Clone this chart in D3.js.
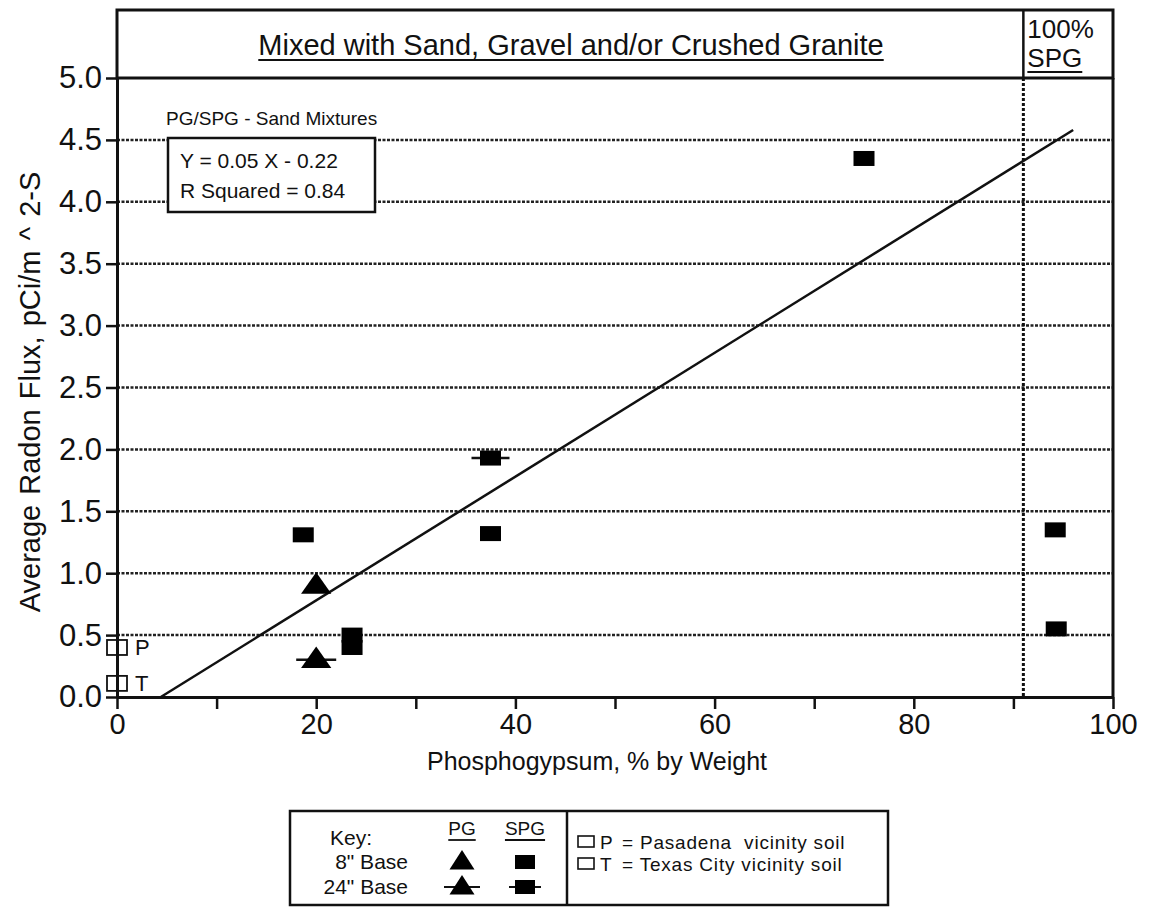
<!DOCTYPE html>
<html lang="en">
  <head>
    <meta charset="UTF-8" />
    <title>Average Radon Flux vs Phosphogypsum</title>
    <style>
      body {
        margin: 0;
        background-color: #ffffff;
      }
      svg text {
        font-family: "Liberation Sans", Arial, sans-serif;
        fill: #111;
      }
    </style>
  </head>
  <body>
    <div id="chart"></div>

    <script src="https://cdn.jsdelivr.net/npm/d3@7/dist/d3.min.js"></script>
    <script>
      // data
      const xTicks = [0, 20, 40, 60, 80, 100];
      const xMinorTicks = [10, 30, 50, 70, 90];
      const yTicks = [0, 0.5, 1, 1.5, 2, 2.5, 3, 3.5, 4, 4.5, 5];
      const yGrid = [0.5, 1, 1.5, 2, 2.5, 3, 3.5, 4, 4.5];

      const spg8 = [
        { x: 18.7, y: 1.31 },
        { x: 23.6, y: 0.5 },
        { x: 23.6, y: 0.4 },
        { x: 37.5, y: 1.32 },
        { x: 75.0, y: 4.35 },
        { x: 94.2, y: 1.35 },
        { x: 94.3, y: 0.55 },
      ];
      const spg24 = [{ x: 37.5, y: 1.93 }];
      const pg8 = [{ x: 20.0, y: 0.9 }];
      const pg24 = [{ x: 20.0, y: 0.3 }];
      const soils = [
        { label: "P", x: 0, y: 0.4 },
        { label: "T", x: 0, y: 0.11 },
      ];

      const fitSlope = 0.05;
      const fitIntercept = -0.22;
      const fitRange = [4.4, 96];
      const spgOnlyAt = 91; // dotted divider, 100% SPG samples to the right

      const width = 1153;
      const height = 908;
      const plotLeft = 117;
      const plotRight = 1113;
      const plotTop = 78; // y = 5.0 line, header box sits above it
      const plotBottom = 697;
      const headerTop = 10;

      const x = d3.scaleLinear().domain([0, 100]).range([plotLeft, plotRight]);
      const y = d3.scaleLinear().domain([0, 5]).range([plotBottom, plotTop]);

      const svg = d3
        .select("#chart")
        .append("svg")
        .attr("width", width)
        .attr("height", height);

      // dotted horizontal grid
      svg
        .append("g")
        .selectAll("line")
        .data(yGrid)
        .join("line")
        .attr("x1", plotLeft)
        .attr("x2", plotRight)
        .attr("y1", (d) => y(d))
        .attr("y2", (d) => y(d))
        .attr("stroke", "#222")
        .attr("stroke-width", 2.5)
        .attr("stroke-dasharray", "3,1.5");

      // dotted vertical divider
      svg
        .append("line")
        .attr("x1", x(spgOnlyAt))
        .attr("x2", x(spgOnlyAt))
        .attr("y1", plotTop)
        .attr("y2", plotBottom)
        .attr("stroke", "#111")
        .attr("stroke-width", 3)
        .attr("stroke-dasharray", "3,2");

      // header box
      svg
        .append("rect")
        .attr("x", plotLeft)
        .attr("y", headerTop)
        .attr("width", plotRight - plotLeft)
        .attr("height", plotTop - headerTop)
        .attr("fill", "none")
        .attr("stroke", "#111")
        .attr("stroke-width", 3);
      svg
        .append("line")
        .attr("x1", x(spgOnlyAt))
        .attr("x2", x(spgOnlyAt))
        .attr("y1", headerTop)
        .attr("y2", plotTop)
        .attr("stroke", "#111")
        .attr("stroke-width", 2.5);

      const titleX = 571;
      const title = svg
        .append("text")
        .attr("x", titleX)
        .attr("y", 55)
        .attr("text-anchor", "middle")
        .style("font-size", "29px")
        .text("Mixed with Sand, Gravel and/or Crushed Granite");
      const tw = title.node().getComputedTextLength();
      svg
        .append("line")
        .attr("x1", titleX - tw / 2)
        .attr("x2", titleX + tw / 2)
        .attr("y1", 60)
        .attr("y2", 60)
        .attr("stroke", "#111")
        .attr("stroke-width", 2);

      svg
        .append("text")
        .attr("x", x(spgOnlyAt) + 4)
        .attr("y", 38)
        .style("font-size", "26px")
        .text("100%");
      const spgLabel = svg
        .append("text")
        .attr("x", x(spgOnlyAt) + 4)
        .attr("y", 67)
        .style("font-size", "26px")
        .text("SPG");
      svg
        .append("line")
        .attr("x1", x(spgOnlyAt) + 4)
        .attr("x2", x(spgOnlyAt) + 4 + spgLabel.node().getComputedTextLength())
        .attr("y1", 72)
        .attr("y2", 72)
        .attr("stroke", "#111")
        .attr("stroke-width", 2);

      // right border
      svg
        .append("line")
        .attr("x1", plotRight)
        .attr("x2", plotRight)
        .attr("y1", plotTop)
        .attr("y2", plotBottom)
        .attr("stroke", "#111")
        .attr("stroke-width", 3);

      // axes
      const xAxis = svg
        .append("g")
        .attr("transform", "translate(0," + plotBottom + ")")
        .call(
          d3
            .axisBottom(x)
            .tickValues(xTicks.concat(xMinorTicks))
            .tickSize(12)
            .tickSizeOuter(0)
            .tickPadding(4)
            .tickFormat((d) => (xTicks.includes(d) ? d : ""))
        );
      xAxis.select(".domain").attr("stroke-width", 3).attr("stroke", "#111");
      xAxis.selectAll(".tick line").attr("stroke-width", 2.5).attr("stroke", "#111");
      xAxis
        .selectAll(".tick text")
        .style("font-size", "29px")
        .style("font-family", "'Liberation Sans', Arial, sans-serif")
        .attr("fill", "#111");

      const yAxis = svg
        .append("g")
        .attr("transform", "translate(" + plotLeft + ",0)")
        .call(
          d3
            .axisLeft(y)
            .tickValues(yTicks)
            .tickSize(11)
            .tickSizeOuter(0)
            .tickPadding(4)
            .tickFormat(d3.format(".1f"))
        );
      yAxis.select(".domain").attr("stroke-width", 3).attr("stroke", "#111");
      yAxis.selectAll(".tick line").attr("stroke-width", 2.5).attr("stroke", "#111");
      yAxis
        .selectAll(".tick text")
        .style("font-size", "31px")
        .style("font-family", "'Liberation Sans', Arial, sans-serif")
        .attr("fill", "#111");

      // axis titles
      svg
        .append("text")
        .attr("x", 597)
        .attr("y", 770)
        .attr("text-anchor", "middle")
        .style("font-size", "25px")
        .text("Phosphogypsum, % by Weight");
      svg
        .append("text")
        .attr("transform", "translate(40,392) rotate(-90)")
        .attr("text-anchor", "middle")
        .style("font-size", "29px")
        .style("word-spacing", "2px")
        .text("Average Radon Flux, pCi/m ^ 2-S");

      // regression line
      svg
        .append("line")
        .attr("x1", x(fitRange[0]))
        .attr("y1", y(fitSlope * fitRange[0] + fitIntercept))
        .attr("x2", x(fitRange[1]))
        .attr("y2", y(fitSlope * fitRange[1] + fitIntercept))
        .attr("stroke", "#111")
        .attr("stroke-width", 2.5);

      // fit annotation
      svg
        .append("text")
        .attr("x", 166)
        .attr("y", 125)
        .style("font-size", "19px")
        .text("PG/SPG - Sand Mixtures");
      svg
        .append("rect")
        .attr("x", 168)
        .attr("y", 138)
        .attr("width", 207)
        .attr("height", 74)
        .attr("fill", "#fff")
        .attr("stroke", "#111")
        .attr("stroke-width", 2.5);
      svg
        .append("text")
        .attr("x", 180)
        .attr("y", 168)
        .style("font-size", "21px")
        .text("Y = 0.05 X - 0.22");
      svg
        .append("text")
        .attr("x", 180)
        .attr("y", 198)
        .style("font-size", "21px")
        .text("R Squared = 0.84");

      // marker shapes
      const sqW = 21;
      const sqH = 15;
      const triangle = d3.symbol().type(d3.symbolTriangle).size(300);

      function drawSquares(g, data, dashed) {
        if (dashed) {
          g.selectAll("line.bar")
            .data(data)
            .join("line")
            .attr("class", "bar")
            .attr("x1", (d) => x(d.x) - 19)
            .attr("x2", (d) => x(d.x) + 19)
            .attr("y1", (d) => y(d.y))
            .attr("y2", (d) => y(d.y))
            .attr("stroke", "#111")
            .attr("stroke-width", 2.5);
        }
        g.selectAll("rect.sq")
          .data(data)
          .join("rect")
          .attr("class", "sq")
          .attr("x", (d) => x(d.x) - sqW / 2)
          .attr("y", (d) => y(d.y) - sqH / 2)
          .attr("width", sqW)
          .attr("height", sqH)
          .attr("fill", "#000");
      }

      function drawTriangles(g, data, dashed) {
        if (dashed) {
          g.selectAll("line.bar")
            .data(data)
            .join("line")
            .attr("class", "bar")
            .attr("x1", (d) => x(d.x) - 20)
            .attr("x2", (d) => x(d.x) + 20)
            .attr("y1", (d) => y(d.y))
            .attr("y2", (d) => y(d.y))
            .attr("stroke", "#111")
            .attr("stroke-width", 2.5);
        }
        g.selectAll("path.tri")
          .data(data)
          .join("path")
          .attr("class", "tri")
          .attr("transform", (d) => "translate(" + x(d.x) + "," + (y(d.y) + 1) + ") scale(1.15,0.95)")
          .attr("d", triangle)
          .attr("fill", "#000");
      }

      drawSquares(svg.append("g"), spg8, false);
      drawSquares(svg.append("g"), spg24, true);
      drawTriangles(svg.append("g"), pg8, false);
      drawTriangles(svg.append("g"), pg24, true);

      // soil reference points
      const soil = svg.append("g");
      soil
        .selectAll("rect")
        .data(soils)
        .join("rect")
        .attr("x", (d) => x(d.x) - 10)
        .attr("y", (d) => y(d.y) - 7.5)
        .attr("width", 20)
        .attr("height", 15)
        .attr("fill", "none")
        .attr("stroke", "#111")
        .attr("stroke-width", 1.8);
      soil
        .selectAll("text")
        .data(soils)
        .join("text")
        .attr("x", (d) => x(d.x) + 18)
        .attr("y", (d) => y(d.y) + 8)
        .style("font-size", "22px")
        .text((d) => d.label);

      // key box
      const key = svg.append("g");
      key
        .append("rect")
        .attr("x", 290)
        .attr("y", 811)
        .attr("width", 598)
        .attr("height", 94)
        .attr("fill", "none")
        .attr("stroke", "#111")
        .attr("stroke-width", 2.5);
      key
        .append("line")
        .attr("x1", 567)
        .attr("x2", 567)
        .attr("y1", 811)
        .attr("y2", 905)
        .attr("stroke", "#111")
        .attr("stroke-width", 2.5);

      key.append("text").attr("x", 330).attr("y", 845).style("font-size", "21px").text("Key:");
      key
        .append("text")
        .attr("x", 408)
        .attr("y", 869)
        .attr("text-anchor", "end")
        .style("font-size", "21px")
        .text('8" Base');
      key
        .append("text")
        .attr("x", 408)
        .attr("y", 894)
        .attr("text-anchor", "end")
        .style("font-size", "21px")
        .text('24" Base');

      const colHeads = [
        { label: "PG", cx: 462 },
        { label: "SPG", cx: 525 },
      ];
      colHeads.forEach((c) => {
        const t = key
          .append("text")
          .attr("x", c.cx)
          .attr("y", 835)
          .attr("text-anchor", "middle")
          .style("font-size", "19px")
          .text(c.label);
        const w = t.node().getComputedTextLength();
        key
          .append("line")
          .attr("x1", c.cx - w / 2)
          .attr("x2", c.cx + w / 2)
          .attr("y1", 840)
          .attr("y2", 840)
          .attr("stroke", "#111")
          .attr("stroke-width", 1.8);
      });

      // key markers
      const keyTri = (cx, cy, dashed) => {
        if (dashed)
          key.append("line").attr("x1", cx - 18).attr("x2", cx + 18).attr("y1", cy).attr("y2", cy).attr("stroke", "#111").attr("stroke-width", 2);
        key
          .append("path")
          .attr("transform", "translate(" + cx + "," + (cy + 1) + ") scale(0.95,0.85)")
          .attr("d", triangle)
          .attr("fill", "#000");
      };
      const keySq = (cx, cy, dashed) => {
        if (dashed)
          key.append("line").attr("x1", cx - 16).attr("x2", cx + 16).attr("y1", cy).attr("y2", cy).attr("stroke", "#111").attr("stroke-width", 2);
        key.append("rect").attr("x", cx - 10).attr("y", cy - 7).attr("width", 20).attr("height", 14).attr("fill", "#000");
      };
      keyTri(462, 862, false);
      keySq(525, 862, false);
      keyTri(462, 887, true);
      keySq(525, 887, true);

      const soilKey = [
        { label: "P", text: "= Pasadena  vicinity soil", y: 849 },
        { label: "T", text: "= Texas City vicinity soil", y: 871 },
      ];
      soilKey.forEach((s) => {
        key
          .append("rect")
          .attr("x", 578)
          .attr("y", s.y - 13)
          .attr("width", 16)
          .attr("height", 11)
          .attr("fill", "none")
          .attr("stroke", "#111")
          .attr("stroke-width", 1.6);
        key.append("text").attr("x", 600).attr("y", s.y).style("font-size", "19px").text(s.label);
        key
          .append("text")
          .attr("x", 622)
          .attr("y", s.y)
          .style("font-size", "19px")
          .style("letter-spacing", "0.8px")
          .style("white-space", "pre")
          .text(s.text);
      });
    </script>
  </body>
</html>
